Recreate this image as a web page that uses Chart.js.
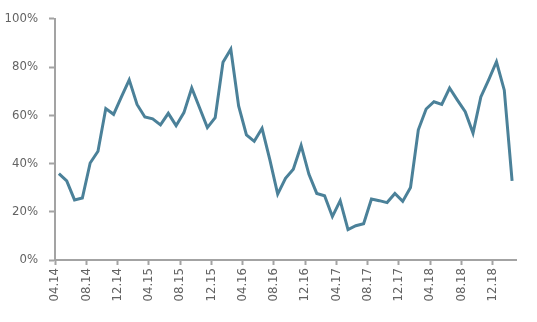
<!DOCTYPE html>
<html>
<head>
<meta charset="utf-8">
<script src="https://cdn.jsdelivr.net/npm/chart.js@4/dist/chart.umd.min.js"></script>
<style>
  html, body { margin: 0; padding: 0; background: #fff; }
  #wrap { width: 537px; height: 322px; }
</style>
</head>
<body>
<div id="wrap"><canvas id="chart"></canvas></div>
<script>
// monthly categories, 04.14 .. 02.19
var months = [
  "04.14","05.14","06.14","07.14","08.14","09.14","10.14","11.14","12.14","01.15","02.15","03.15",
  "04.15","05.15","06.15","07.15","08.15","09.15","10.15","11.15","12.15","01.16","02.16","03.16",
  "04.16","05.16","06.16","07.16","08.16","09.16","10.16","11.16","12.16","01.17","02.17","03.17",
  "04.17","05.17","06.17","07.17","08.17","09.17","10.17","11.17","12.17","01.18","02.18","03.18",
  "04.18","05.18","06.18","07.18","08.18","09.18","10.18","11.18","12.18","01.19","02.19"
];
// values in %
var values = [
  35.8, 32.8, 24.9, 25.7, 40.2, 45.1, 62.8, 60.4, 67.6, 74.7, 64.5, 59.3,
  58.5, 56.0, 60.8, 55.7, 61.1, 71.3, 63.1, 54.9, 59.0, 82.0, 87.4, 63.9,
  51.9, 49.2, 54.6, 41.5, 27.3, 33.9, 37.6, 47.5, 35.5, 27.6, 26.6, 18.0,
  24.6, 12.6, 14.2, 15.0, 25.3, 24.6, 23.8, 27.6, 24.3, 30.1, 54.0, 62.6,
  65.6, 64.5, 71.3, 66.3, 61.5, 52.6, 67.6, 74.7, 82.2, 70.4, 32.8
];
// labels shown on the x axis (every 4th month)
var tickLabels = ["04.14","08.14","12.14","04.15","08.15","12.15","04.16","08.16","12.16",
                  "04.17","08.17","12.17","04.18","08.18","12.18"];
var yTicks = [0, 20, 40, 60, 80, 100];

var axisGrey = "#a3a3a3";
var textGrey = "#636363";
var font = { family: "'Liberation Sans Narrow', 'DejaVu Sans Condensed', 'Liberation Sans', sans-serif", size: 13 };

var ctx = document.getElementById("chart").getContext("2d");
var chart = new Chart(ctx, {
  type: "line",
  data: {
    labels: months,
    datasets: [{
      data: values,
      borderColor: "#4b8199",
      borderWidth: 3,
      pointRadius: 0,
      tension: 0,
      fill: false
    }]
  },
  options: {
    responsive: true,
    maintainAspectRatio: false,
    animation: false,
    layout: { padding: { top: 16, right: 21, bottom: 0, left: 0 } },
    plugins: { legend: { display: false }, tooltip: { enabled: false } },
    scales: {
      x: {
        offset: true,
        grid: {
          offset: true,
          drawOnChartArea: false,
          tickLength: 5,
          tickWidth: 2,
          tickColor: function (c) {
            return (c.index !== undefined && c.index % 4 === 0) ? axisGrey : "rgba(0,0,0,0)";
          }
        },
        border: { color: axisGrey, width: 2 },
        ticks: {
          autoSkip: false,
          minRotation: 90,
          maxRotation: 90,
          padding: 3,
          labelOffset: -3.9,
          color: textGrey,
          font: font,
          callback: function (v, i) {
            return i % 4 === 0 ? tickLabels[i / 4] : "";
          }
        },
        afterFit: function (s) { s.height = 62; }
      },
      y: {
        min: 0,
        max: 100,
        afterBuildTicks: function (s) { s.ticks = yTicks.map(function (v) { return { value: v }; }); },
        grid: { drawOnChartArea: false, tickLength: 6, tickWidth: 2, tickColor: axisGrey },
        border: { color: axisGrey, width: 2 },
        ticks: {
          padding: 11,
          color: textGrey,
          font: font,
          callback: function (v) { return v + "%"; }
        },
        afterFit: function (s) { s.width = 55; }
      }
    }
  }
});
</script>
</body>
</html>
